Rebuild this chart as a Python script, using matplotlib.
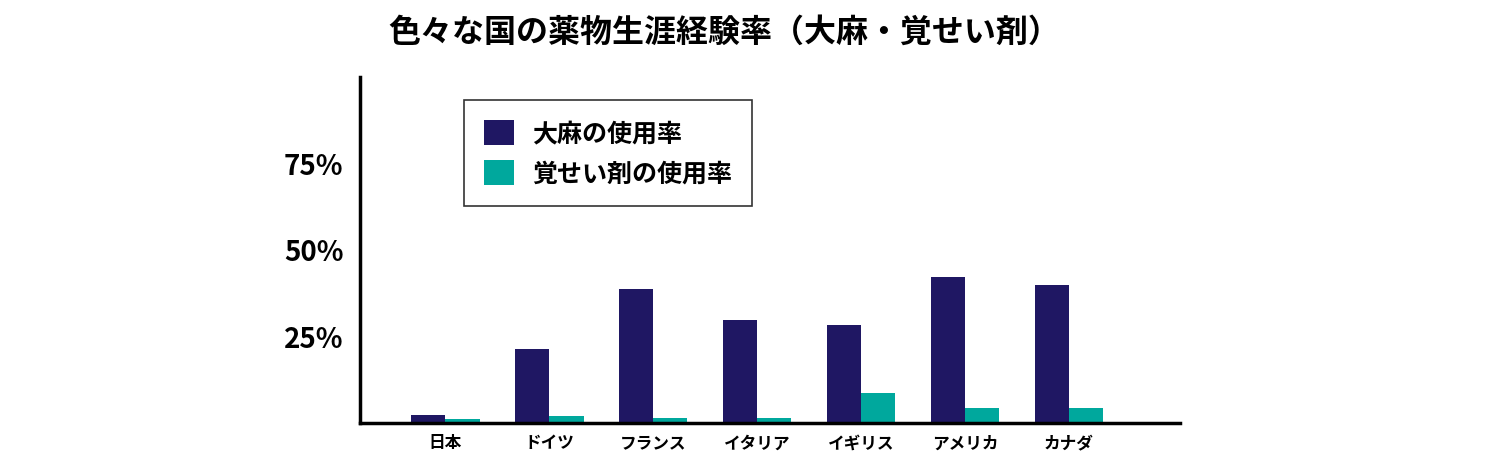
import matplotlib
matplotlib.use("Agg")
import matplotlib.pyplot as plt
import numpy as np

plt.rcParams['font.family'] = ['Noto Sans CJK JP', 'DejaVu Sans']

NAVY, TEAL = "#1F1763", "#00A89D"

countries = ["日本", "ドイツ", "フランス", "イタリア", "イギリス", "アメリカ", "カナダ"]
cannabis = [2.3, 21.5, 38.7, 29.7, 28.5, 42.2, 39.8]
meth = [1.2, 2.0, 1.4, 1.4, 8.7, 4.4, 4.4]

fig = plt.figure(figsize=(14.88, 4.75), dpi=100)
ax = fig.add_axes([0.242, 0.109, 0.551, 0.729])

x = np.arange(len(countries))
w = 0.33
ax.bar(x - w / 2, cannabis, w, color=NAVY, label="大麻の使用率")
ax.bar(x + w / 2, meth, w, color=TEAL, label="覚せい剤の使用率")

ax.set_xlim(-0.82, 7.07)
ax.set_ylim(0, 100)
ax.set_yticks([25, 50, 75])
ax.set_yticklabels(["25%", "50%", "75%"], fontsize=20, weight="bold")
ax.set_xticks(x)
ax.set_xticklabels(countries, fontsize=12, weight="bold")
ax.tick_params(axis="y", length=0, pad=12)
ax.tick_params(axis="x", length=0, pad=8)
for sp in ["top", "right"]:
    ax.spines[sp].set_visible(False)
for sp in ["left", "bottom"]:
    ax.spines[sp].set_linewidth(2.5)

leg = ax.legend(loc="upper left", bbox_to_anchor=(0.112, 0.97),
                prop={"weight": "bold", "size": 18}, fancybox=False, edgecolor="black",
                handlelength=1.2, handleheight=1.2, borderpad=0.8, labelspacing=0.55,
                handletextpad=0.7)
leg.get_frame().set_linewidth(1.2)

fig.suptitle("色々な国の薬物生涯経験率（大麻・覚せい剤）", fontsize=23, weight="bold",
             x=0.487, y=0.965)

fig.savefig("out.png")
